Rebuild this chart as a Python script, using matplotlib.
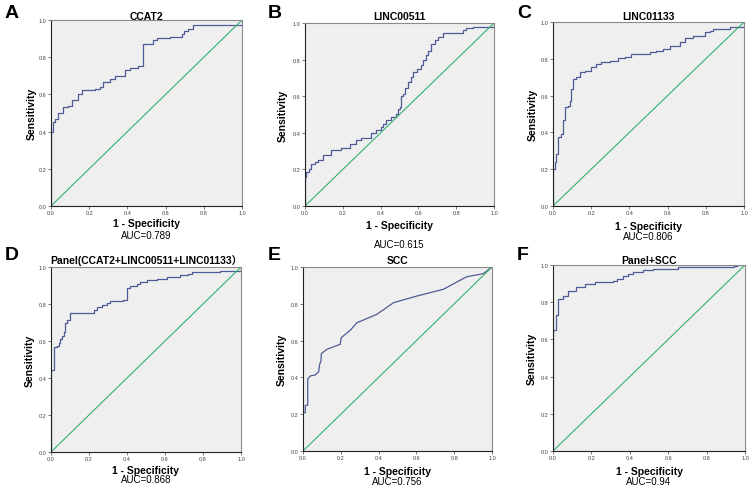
import matplotlib
matplotlib.use("Agg")
import matplotlib.pyplot as plt

plt.rcParams['font.family'] = ['Liberation Sans', 'Noto Sans CJK SC', 'DejaVu Sans']

# ROC points (1 - specificity, sensitivity)
ccat2_fpr = [0, 0, 0.009, 0.021, 0.038, 0.065, 0.091, 0.108, 0.143, 0.161, 0.230, 0.257, 0.274,
             0.309, 0.335, 0.387, 0.414, 0.457, 0.480, 0.536, 0.553, 0.623, 0.684, 0.696,
             0.719, 0.742, 1.0]
ccat2_tpr = [0, 0.40, 0.45, 0.47, 0.50, 0.53, 0.54, 0.57, 0.60, 0.625, 0.63, 0.64, 0.665,
             0.685, 0.70, 0.73, 0.74, 0.755, 0.87, 0.89, 0.905, 0.91, 0.925, 0.94,
             0.95, 0.975, 1.0]

linc511_fpr = [0, 0, 0.007, 0.021, 0.034, 0.051, 0.069, 0.095, 0.139, 0.192, 0.236, 0.272, 0.298,
               0.351, 0.377, 0.404, 0.413, 0.430, 0.457, 0.483, 0.492, 0.501, 0.510, 0.519,
               0.531, 0.545, 0.559, 0.571, 0.594, 0.616, 0.624, 0.642, 0.651, 0.665, 0.686,
               0.704, 0.730, 0.836, 0.854, 0.889, 1.0]
linc511_tpr = [0, 0.157, 0.186, 0.204, 0.228, 0.24, 0.25, 0.277, 0.304, 0.319, 0.337, 0.359, 0.373,
               0.40, 0.413, 0.432, 0.45, 0.468, 0.486, 0.505, 0.528, 0.541, 0.60, 0.614,
               0.645, 0.678, 0.705, 0.732, 0.747, 0.769, 0.796, 0.823, 0.845, 0.887, 0.905,
               0.923, 0.945, 0.96, 0.973, 0.978, 1.0]

linc1133_fpr = [0, 0, 0.009, 0.017, 0.026, 0.040, 0.052, 0.061, 0.079, 0.087, 0.096, 0.105, 0.122,
                0.140, 0.166, 0.201, 0.227, 0.253, 0.297, 0.340, 0.375, 0.410, 0.506, 0.541,
                0.576, 0.611, 0.663, 0.689, 0.733, 0.794, 0.820, 0.838, 0.925, 1.0]
linc1133_tpr = [0, 0.20, 0.239, 0.284, 0.374, 0.389, 0.47, 0.537, 0.546, 0.573, 0.637, 0.691, 0.70,
                0.73, 0.736, 0.754, 0.772, 0.785, 0.79, 0.803, 0.808, 0.826, 0.835, 0.844,
                0.853, 0.872, 0.89, 0.911, 0.926, 0.944, 0.953, 0.962, 0.971, 1.0]

panel_fpr = [0, 0, 0.014, 0.031, 0.040, 0.049, 0.058, 0.066, 0.075, 0.084, 0.101, 0.206, 0.224,
             0.241, 0.267, 0.294, 0.311, 0.381, 0.399, 0.416, 0.451, 0.469, 0.503, 0.556,
             0.608, 0.678, 0.722, 0.740, 0.888, 1.0]
panel_tpr = [0, 0.443, 0.566, 0.575, 0.587, 0.61, 0.628, 0.646, 0.70, 0.713, 0.749, 0.754, 0.767,
             0.785, 0.795, 0.808, 0.817, 0.82, 0.889, 0.898, 0.907, 0.921, 0.928, 0.937,
             0.948, 0.957, 0.964, 0.973, 0.978, 1.0]

scc_fpr = [0, 0, 0.012, 0.012, 0.025, 0.025, 0.039, 0.065, 0.083, 0.088, 0.095, 0.097, 0.127,
           0.197, 0.202, 0.250, 0.285, 0.391, 0.479, 0.602, 0.743, 0.866, 0.954, 1.0]
scc_tpr = [0, 0.208, 0.208, 0.248, 0.248, 0.39, 0.408, 0.413, 0.431, 0.471, 0.489, 0.529, 0.553,
           0.58, 0.616, 0.656, 0.697, 0.743, 0.806, 0.842, 0.879, 0.947, 0.964, 1.0]

panel_scc_fpr = [0, 0, 0.014, 0.026, 0.052, 0.078, 0.122, 0.166, 0.218, 0.314, 0.331, 0.366,
                 0.392, 0.418, 0.470, 0.523, 0.653, 0.941, 0.958, 1.0]
panel_scc_tpr = [0, 0.65, 0.731, 0.817, 0.835, 0.862, 0.884, 0.898, 0.907, 0.916, 0.925, 0.939,
                 0.952, 0.964, 0.973, 0.978, 0.987, 0.996, 1.0, 1.0]

letters = ['A', 'B', 'C', 'D', 'E', 'F']
titles = ['CCAT2', 'LINC00511', 'LINC01133', 'Panel(CCAT2+LINC00511+LINC01133）', 'SCC', 'Panel+SCC']
auc_labels = ['AUC=0.789', 'AUC=0.615', 'AUC=0.806', 'AUC=0.868', 'AUC=0.756', 'AUC=0.94']
curves = [(ccat2_fpr, ccat2_tpr), (linc511_fpr, linc511_tpr), (linc1133_fpr, linc1133_tpr),
          (panel_fpr, panel_tpr), (scc_fpr, scc_tpr), (panel_scc_fpr, panel_scc_tpr)]
stepped = [True, True, True, True, False, True]
ticks = [0.0, 0.2, 0.4, 0.6, 0.8, 1.0]

W, H = 753, 489
fig = plt.figure(figsize=(W / 100, H / 100), dpi=100)

# axes boxes in pixels: left, right, top, bottom
boxes = [(51, 242, 21, 207), (305, 494, 24, 207), (553, 744, 23, 207),
         (51, 241, 268, 453), (303, 492, 268, 452), (553, 745, 266, 452)]
letter_pos = [(5, 13), (268, 13), (517, 13), (5, 256), (268, 256), (517, 256)]
title_y = [17, 17, 17, 261, 261, 261]
xlabel_y = [224, 226, 227, 471, 472, 472]
auc_y = [236, 245, 237, 480, 482, 482]
ylabel_x = [32, 283, 533, 30, 282, 532]

curve_color = '#4f5b96'
diag_color = '#33b36b'


def fx(px):
    return px / W


def fy(py):
    return 1 - py / H


for i in range(6):
    l, r, t, b = boxes[i]
    ax = fig.add_axes([fx(l), fy(b), (r - l) / W, (b - t) / H])
    ax.set_facecolor('#efefef')
    fpr, tpr = curves[i]
    if stepped[i]:
        ax.step(fpr, tpr, where='post', color=curve_color, lw=0.9)
    else:
        ax.plot(fpr, tpr, color=curve_color, lw=0.9)
    ax.plot([0, 1], [0, 1], color=diag_color, lw=0.8)
    ax.set_xlim(0, 1)
    ax.set_ylim(0, 1)
    ax.set_xticks(ticks)
    ax.set_yticks(ticks)
    ax.set_xticklabels([f'{v:.1f}' for v in ticks])
    ax.set_yticklabels([f'{v:.1f}' for v in ticks])
    ax.tick_params(labelsize=4, length=2, width=0.5, pad=1, colors='#444444')
    for side in ['left', 'bottom']:
        ax.spines[side].set_color('#222222')
        ax.spines[side].set_linewidth(0.8)
    for side in ['top', 'right']:
        ax.spines[side].set_color('#8a8a8a')
        ax.spines[side].set_linewidth(0.8)

    cx = (l + r) / 2
    fig.text(fx(cx), fy(title_y[i]), titles[i], ha='center', va='center',
             fontsize=7.5, fontweight='bold')
    fig.text(fx(letter_pos[i][0]), fy(letter_pos[i][1]), letters[i], ha='left', va='center',
             fontsize=14, fontweight='bold')
    fig.text(fx(cx), fy(xlabel_y[i]), '1 - Specificity', ha='center', va='center',
             fontsize=7.5, fontweight='bold')
    fig.text(fx(cx), fy(auc_y[i]), auc_labels[i], ha='center', va='center', fontsize=7)
    fig.text(fx(ylabel_x[i]), fy((t + b) / 2), 'Sensitivity', ha='center', va='center',
             rotation=90, fontsize=7.5, fontweight='bold')

fig.savefig('out.png', dpi=100, facecolor='white')
